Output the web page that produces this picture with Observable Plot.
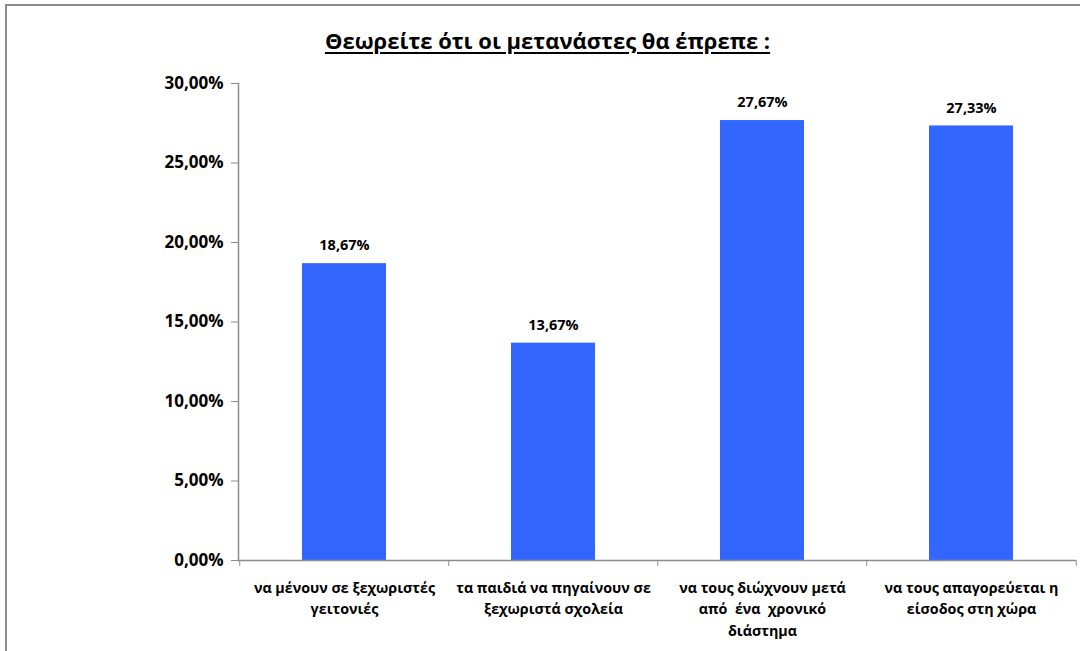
<!DOCTYPE html>
<html>
<head>
<meta charset="utf-8">
<script src="https://cdn.jsdelivr.net/npm/d3@7"></script>
<script src="https://cdn.jsdelivr.net/npm/@observablehq/plot@0.6"></script>
<style>
  body { margin: 0; background: #fff; }
  #wrap { position: relative; width: 1080px; height: 651px; overflow: hidden; font-family: "Open Sans", "Noto Sans", sans-serif; }
  #border { position: absolute; left: 5px; top: 4px; width: 1100px; height: 700px; border-top: 2px solid #8c8c8c; border-left: 2px solid #8c8c8c; box-sizing: border-box; }
  #title { position: absolute; left: 0; width: 1095px; top: 25px; text-align: center; font-weight: bold; font-size: 22px; text-decoration: underline; text-underline-offset: 3px; color: #000; }
  #chart { position: absolute; left: 0; top: 0; }
</style>
</head>
<body>
<div id="wrap">
  <div id="border"></div>
  <div id="title">Θεωρείτε ότι οι μετανάστες θα έπρεπε :</div>
  <div id="chart"></div>
</div>
<script>
const categories = [
  "να μένουν σε ξεχωριστές\nγειτονιές",
  "τα παιδιά να πηγαίνουν σε\nξεχωριστά σχολεία",
  "να τους διώχνουν μετά\nαπό  ένα  χρονικό\nδιάστημα",
  "να τους απαγορεύεται η\nείσοδος στη χώρα"
];
const values = [0.1867, 0.1367, 0.2767, 0.2733];
const yTicks = [0, 0.05, 0.10, 0.15, 0.20, 0.25, 0.30];

const data = categories.map((c, i) => ({category: c, value: values[i]}));
const fmt = v => (v * 100).toFixed(2).replace(".", ",") + "%";

const W = 1080, H = 651, mL = 238, mR = 4, mT = 83, mB = 91;
const step = (W - mL - mR) / categories.length;
const gray = "#8c8c8c";

const chart = Plot.plot({
  width: W, height: H,
  marginLeft: mL, marginRight: mR, marginTop: mT, marginBottom: mB,
  style: {fontFamily: "'Open Sans', 'Noto Sans', sans-serif", background: "transparent", overflow: "visible"},
  x: {domain: categories, paddingInner: 0.6, paddingOuter: 0.3, axis: null},
  y: {domain: [0, 0.30], axis: null},
  marks: [
    Plot.barY(data, {x: "category", y: "value", fill: "#3366FF"}),
    Plot.text(data, {x: "category", y: "value", text: d => fmt(d.value), dy: -18, fontWeight: "bold", fontSize: 14.5, fill: "#000"}),
    Plot.ruleY([0], {stroke: gray, strokeWidth: 1.5}),
    Plot.frame({anchor: "left", stroke: gray, strokeWidth: 1.5}),
    Plot.axisY({ticks: yTicks, tickFormat: fmt, tickSize: 7, tickPadding: 8, stroke: gray, fill: "#000", fontWeight: "bold", fontSize: 17, label: null}),
    Plot.axisX({ticks: categories, tickFormat: () => "", tickSize: 6, dx: -step / 2, stroke: gray, label: null}),
    Plot.axisX({ticks: categories.slice(-1), tickFormat: () => "", tickSize: 6, dx: step / 2, stroke: gray, label: null}),
    Plot.text(data, {x: "category", y: () => 0, text: "category", lineAnchor: "top", dy: 17, lineHeight: 1.5, fontWeight: "bold", fontSize: 14.3, fill: "#000"})
  ]
});
document.getElementById("chart").appendChild(chart);
</script>
</body>
</html>
